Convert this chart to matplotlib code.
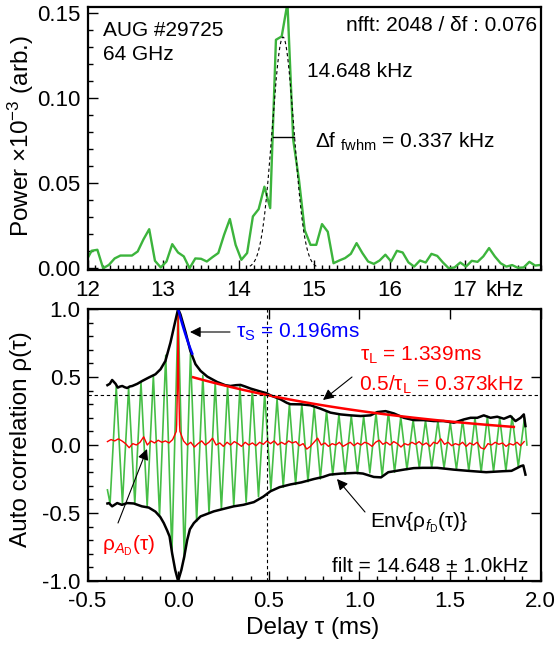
import numpy as np
import matplotlib
matplotlib.use("Agg")
import matplotlib.pyplot as plt
from matplotlib.ticker import MultipleLocator, FixedLocator
from matplotlib.transforms import offset_copy

plt.rcParams["font.family"] = ["Liberation Sans", "DejaVu Sans"]
plt.rcParams["mathtext.fontset"] = "custom"
plt.rcParams["mathtext.rm"] = "Liberation Sans"
plt.rcParams["mathtext.it"] = "Liberation Sans:italic"
plt.rcParams["mathtext.bf"] = "Liberation Sans:bold"
plt.rcParams["axes.unicode_minus"] = False

W, H = 559, 646

# --- spectrum (top panel) ---
DF = 0.0762939          # kHz per fft bin
K0 = 157                # first bin shown
power = [0.004, 0.0103, 0.0109, 0.000, 0.002, 0.0058, 0.0075, 0.0075, 0.0075, 0.0099,
         0.017, 0.023, 0.0044, 0.0005, 0.004, 0.0142, 0.0093, 0.007, 0.000, 0.0058,
         0.0056, 0.004, 0.0066, 0.009, 0.0197, 0.029, 0.0138, 0.005, 0.009, 0.0305,
         0.0348, 0.048, 0.0354, 0.1344, 0.1364, 0.156, 0.0756, 0.052, 0.0224, 0.0138,
         0.0138, 0.026, 0.0215, 0.003, 0.0046, 0.006, 0.0085, 0.0148, 0.009, 0.004,
         0.0026, 0.0046, 0.008, 0.004, 0.0103, 0.0093, 0.0035, 0.001, 0.0046, 0.0034,
         0.0085, 0.0073, 0.0034, 0.000, 0.0005, 0.0034, 0.001, 0.0044, 0.0038, 0.007,
         0.0119, 0.007, 0.003, 0.001, 0.0019, 0.0003, 0.0005, 0.0038, 0.0016, 0.002]
freq = (K0 + np.arange(len(power))) * DF

FIT_CENTER = 14.59
FIT_FWHM = 0.337
FIT_AMP = 0.136
FWHM_BAR = [14.46, 14.74]
FWHM_LEVEL = 0.0775

# --- auto correlation (bottom panel) ---
F_FILT = 14.648                      # kHz
TAU_S = 0.196
TAU_L = 1.339
AMP_L = 0.53
TAU_VLINE = 0.49

green_peaks = [0.43, 0.42, 0.46, 0.51, 0.66, 1.0, 0.67, 0.51, 0.46, 0.43, 0.43, 0.41,
               0.38, 0.34, 0.30, 0.30, 0.28, 0.25, 0.225, 0.215, 0.21, 0.235, 0.245,
               0.205, 0.185, 0.18, 0.175, 0.165, 0.185, 0.20, 0.21, 0.20, 0.21, 0.20]
green_troughs = [-0.43, -0.43, -0.43, -0.45, -0.52, -0.80, -0.84, -0.56, -0.50, -0.47,
                 -0.45, -0.42, -0.38, -0.33, -0.31, -0.29, -0.27, -0.25, -0.22, -0.215,
                 -0.21, -0.205, -0.23, -0.20, -0.18, -0.17, -0.168, -0.17, -0.18, -0.19,
                 -0.20, -0.195, -0.19, -0.16]
green_start = (-0.39, -0.33)
green_end = (1.925, 0.0)

env_up_tau = [-0.39, -0.377, -0.364, -0.345, -0.333, -0.32, -0.308, -0.295, -0.281, -0.267,
              -0.253, -0.225, -0.198, -0.162, -0.125, -0.097, -0.07, -0.042, -0.014, 0.0,
              0.013, 0.041, 0.068, 0.096, 0.124, 0.161, 0.216, 0.26, 0.289, 0.32, 0.344,
              0.37, 0.4, 0.45, 0.49, 0.51, 0.565, 0.6, 0.62, 0.676, 0.731, 0.786, 0.841,
              0.896, 0.951, 1.007, 1.062, 1.099, 1.145, 1.191, 1.246, 1.301, 1.356, 1.411,
              1.466, 1.522, 1.577, 1.614, 1.651, 1.687, 1.724, 1.761, 1.798, 1.834, 1.862,
              1.89, 1.908, 1.917]
env_up_val = [0.44, 0.45, 0.478, 0.45, 0.422, 0.43, 0.434, 0.425, 0.419, 0.43,
              0.434, 0.45, 0.471, 0.496, 0.52, 0.557, 0.618, 0.754, 0.92, 1.0,
              0.96, 0.83, 0.69, 0.594, 0.545, 0.503, 0.463, 0.44, 0.434, 0.44, 0.442,
              0.43, 0.415, 0.395, 0.38, 0.365, 0.336, 0.31, 0.3, 0.299, 0.292, 0.267, 0.238,
              0.225, 0.218, 0.213, 0.218, 0.242, 0.249, 0.232, 0.2, 0.183, 0.183, 0.176,
              0.176, 0.164, 0.188, 0.2, 0.2, 0.218, 0.2, 0.208, 0.193, 0.213, 0.176,
              0.2, 0.225, 0.139]

env_lo_tau = [-0.39, -0.382, -0.364, -0.336, -0.31, -0.281, -0.245, -0.2, -0.162, -0.125,
              -0.098, -0.079, -0.06, -0.047, -0.033, -0.016, 0.0, 0.018, 0.034, 0.05, 0.065,
              0.087, 0.124, 0.197, 0.25, 0.307, 0.36, 0.418, 0.47, 0.51, 0.56, 0.62, 0.68,
              0.75, 0.8, 0.837, 0.9, 0.98, 1.02, 1.08, 1.12, 1.16, 1.246, 1.3, 1.35, 1.43,
              1.48, 1.52, 1.6, 1.7, 1.79, 1.84, 1.87, 1.89, 1.905, 1.917]
env_lo_val = [-0.43, -0.427, -0.451, -0.427, -0.44, -0.427, -0.43, -0.451, -0.46, -0.49,
              -0.53, -0.574, -0.63, -0.673, -0.796, -0.919, -1.0, -0.919, -0.82, -0.7, -0.62,
              -0.574, -0.525, -0.488, -0.47, -0.451, -0.44, -0.42, -0.38, -0.34, -0.31, -0.29,
              -0.275, -0.25, -0.235, -0.218, -0.21, -0.205, -0.21, -0.235, -0.238, -0.2, -0.181,
              -0.17, -0.168, -0.168, -0.175, -0.181, -0.19, -0.2, -0.193, -0.19, -0.17, -0.156,
              -0.15, -0.218]

RED_T0 = -0.39
RED_DT = 0.02
red_vals = [0.025, 0.04, 0.03, 0.045, 0.03, 0.01, -0.02, 0.01, 0.0, 0.02,
            0.06, 0.0, 0.03, 0.015, 0.035, 0.02, 0.03, 0.015, 0.04, 0.1,
            0.1, 0.03, 0.0, 0.02, -0.015, 0.01, 0.03, 0.0, 0.02, 0.05,
            0.0, 0.015, -0.01, 0.02, 0.0, 0.025, 0.01, -0.01, 0.02, 0.0,
            0.015, -0.005, 0.02, 0.005, 0.03, 0.01, 0.03, 0.0, 0.02, 0.005,
            0.03, 0.015, 0.025, -0.005, 0.01, -0.03, -0.01, 0.02, 0.05, 0.0,
            0.015, -0.01, 0.01, 0.0, 0.02, -0.01, 0.005, 0.02, -0.005, 0.015,
            0.0, 0.02, 0.01, -0.01, 0.02, 0.035, 0.005, 0.02, 0.0, 0.025,
            0.01, -0.015, 0.01, 0.0, 0.02, 0.005, 0.025, 0.0, 0.015, -0.01,
            0.02, 0.01, 0.045, 0.005, 0.02, -0.005, 0.01, 0.0, 0.02, -0.01,
            0.015, 0.0, 0.02, -0.02, -0.03, 0.01, 0.0, 0.02, 0.005, 0.015,
            -0.01, 0.01, 0.0, 0.02, -0.005, 0.025]
red_spike_tau = [-0.008, -0.004, 0.0, 0.004, 0.008]
red_spike_val = [0.15, 0.4, 1.0, 0.4, 0.15]

GREEN_TOP = "#3cb43c"
GREEN_BOT = "#46be46"


def px(x, y):
    return x / W, 1 - y / H


def arrow(ax, tail, head):
    ax.annotate(
        "", xy=(head[0], H - head[1]), xytext=(tail[0], H - tail[1]),
        xycoords="figure pixels", textcoords="figure pixels",
        annotation_clip=False,
        arrowprops=dict(arrowstyle="-|>", color="black", lw=0.8,
                        mutation_scale=16, shrinkA=0, shrinkB=0),
    )


def style_axis(ax):
    for sp in ax.spines.values():
        sp.set_linewidth(1.6)
    ax.tick_params(which="both", direction="in", labelsize=16, pad=7, width=1.0)
    ax.tick_params(axis="y", pad=5)
    ax.tick_params(which="major", length=7)
    ax.tick_params(which="minor", length=3.5)


fig = plt.figure(figsize=(W / 100, H / 100), dpi=100)

# ---------------- top panel ----------------
ax1 = fig.add_axes([87.5 / W, 1 - 270 / H, 453 / W, 263 / H])
ax1.plot(freq, power, color=GREEN_TOP, lw=1.7, clip_on=True)
f_fit = np.linspace(14.15, 15.05, 150)
g_fit = FIT_AMP * np.exp(-4 * np.log(2) * (f_fit - FIT_CENTER) ** 2 / FIT_FWHM ** 2)
ax1.plot(f_fit, g_fit, color="black", lw=0.8, ls=(0, (3, 2.5)))
ax1.plot(FWHM_BAR, [FWHM_LEVEL, FWHM_LEVEL], color="black", lw=1.0)
ax1.set_xlim(12, 18)
ax1.set_ylim(-0.001, 0.1537)
ax1.xaxis.set_major_locator(FixedLocator([12, 13, 14, 15, 16, 17]))
ax1.xaxis.set_minor_locator(MultipleLocator(0.1))
ax1.yaxis.set_major_locator(FixedLocator([0.0, 0.05, 0.10, 0.15]))
ax1.yaxis.set_minor_locator(MultipleLocator(0.01))
ax1.set_yticklabels(["0.00", "0.05", "0.10", "0.15"])
ax1.set_xticklabels(["12", "13", "14", "15", "16", "17"])
style_axis(ax1)
ax1.tick_params(which="both", top=False, right=False)
ax1.text(17.27, 0, "kHz", fontsize=16, ha="left", va="top",
         transform=offset_copy(ax1.get_xaxis_transform(), fig=fig, y=-7, units="points"))

fig.text(*px(103, 36), "AUG #29725", fontsize=15, va="baseline")
fig.text(*px(103, 60), "64 GHz", fontsize=15, va="baseline")
fig.text(*px(537, 31), "nfft: 2048 / δf : 0.076", fontsize=15, ha="right", va="baseline")
fig.text(*px(307, 77), "14.648 kHz", fontsize=15, va="baseline")
fig.text(*px(315, 148), r"Δf $_\mathrm{fwhm}$ = 0.337 kHz", fontsize=15, va="baseline")
fig.text(*px(21, 136), r"Power ×10$^\mathrm{-3}$ (arb.)", fontsize=17.5,
         rotation=90, ha="center", va="center")

# ---------------- bottom panel ----------------
ax2 = fig.add_axes([87.5 / W, 1 - 581 / H, 453 / W, 272 / H])
T = 1.0 / F_FILT
g_tau = [green_start[0]]
g_val = [green_start[1]]
for i in range(len(green_peaks)):
    g_tau += [(i - 5.5) * T, (i - 5) * T]
    g_val += [green_troughs[i], green_peaks[i]]
g_tau.append(green_end[0])
g_val.append(green_end[1])
ax2.plot(g_tau, g_val, color=GREEN_BOT, lw=1.2)

r_tau = list(RED_T0 + RED_DT * np.arange(len(red_vals))) + red_spike_tau
r_val = list(red_vals) + red_spike_val
order = np.argsort(r_tau)
ax2.plot(np.array(r_tau)[order], np.array(r_val)[order], color="red", lw=1.0)

ax2.plot(env_up_tau, env_up_val, color="black", lw=1.8)
ax2.plot(env_lo_tau, env_lo_val, color="black", lw=1.8)

t_l = np.linspace(0.083, 1.853, 100)
ax2.plot(t_l, AMP_L * np.exp(-t_l / TAU_L), color="red", lw=1.8)
t_s = np.linspace(0.0, 0.078, 20)
ax2.plot(t_s, np.exp(-t_s / TAU_S), color="blue", lw=1.8)

ax2.axhline(np.exp(-1), color="black", lw=0.8, ls=(0, (3, 2.5)))
ax2.axvline(TAU_VLINE, color="black", lw=0.8, ls=(0, (3, 2.5)))

ax2.set_xlim(-0.5, 2.0)
ax2.set_ylim(-1.0, 1.0)
ax2.xaxis.set_major_locator(MultipleLocator(0.5))
ax2.xaxis.set_minor_locator(MultipleLocator(0.1))
ax2.yaxis.set_major_locator(MultipleLocator(0.5))
ax2.yaxis.set_minor_locator(MultipleLocator(0.1))
ax2.xaxis.set_major_formatter(plt.FormatStrFormatter("%.1f"))
ax2.yaxis.set_major_formatter(plt.FormatStrFormatter("%.1f"))
style_axis(ax2)
ax2.tick_params(which="major", top=True, right=True)
ax2.tick_params(which="minor", top=False, right=False)

fig.text(*px(236, 338), r"τ$_\mathrm{S}$ = 0.196ms", fontsize=15, color="blue", va="baseline")
fig.text(*px(360, 361), r"τ$_\mathrm{L}$ = 1.339ms", fontsize=15, color="red", va="baseline")
fig.text(*px(359, 391), r"0.5/τ$_\mathrm{L}$ = 0.373kHz", fontsize=15, color="red", va="baseline")
fig.text(*px(370, 527), r"Env{ρ$_{f_\mathrm{D}}$(τ)}", fontsize=15, va="baseline")
fig.text(*px(102, 550), r"ρ$_{A_\mathrm{D}}$(τ)", fontsize=15, color="red", va="baseline")
fig.text(*px(528, 572), "filt = 14.648 ± 1.0kHz", fontsize=15, ha="right", va="baseline")

arrow(ax2, (230, 332), (190, 332))
arrow(ax2, (352, 377), (323, 400))
arrow(ax2, (365, 512), (337, 479))
arrow(ax2, (118, 523), (147, 449))

fig.text(*px(21, 439), "Auto correlation ρ(τ)", fontsize=17.5, rotation=90,
         ha="center", va="center")
fig.text(*px(313, 628), "Delay τ (ms)", fontsize=17.5, ha="center", va="center")

fig.savefig("out.png", dpi=100)
